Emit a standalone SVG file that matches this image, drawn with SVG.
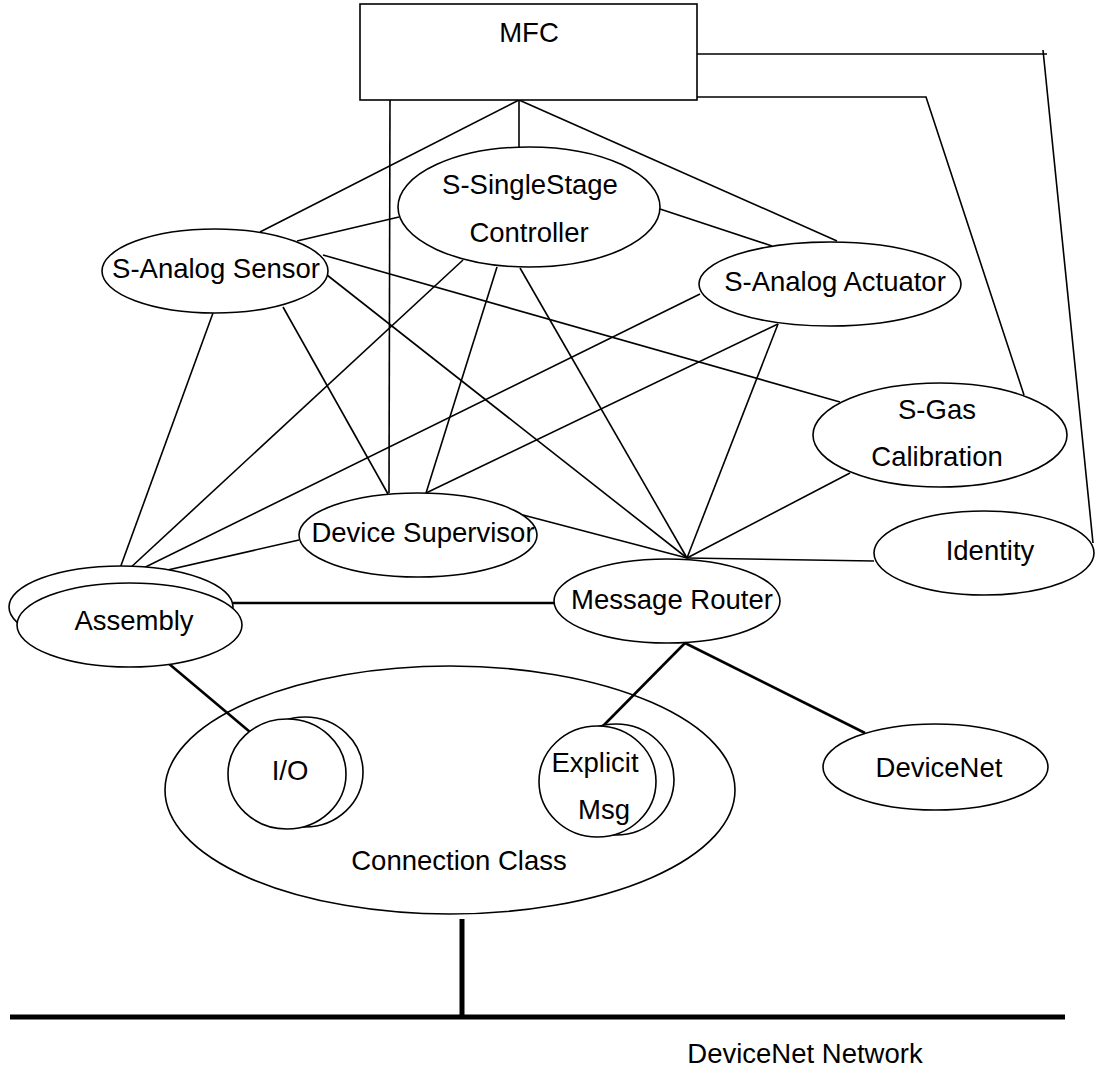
<svg xmlns="http://www.w3.org/2000/svg" width="1095" height="1070" viewBox="0 0 1095 1070">
<style>
.n{fill:#fff;stroke:#000;stroke-width:1.6}
.t{font-family:"Liberation Sans",Arial,sans-serif;font-size:27.5px;fill:#000;text-anchor:middle}
.c line,.c polyline{stroke:#000;stroke-width:1.6;fill:none}
.c .k{stroke-width:2.6}
.c .b{stroke-width:5}
</style>
<rect width="1095" height="1070" fill="#fff"/>
<g id="connection-class">
<ellipse class="n" cx="450" cy="790" rx="285" ry="124"/>
<text class="t" x="459" y="870">Connection Class</text>
</g>
<g id="connectors" class="c">
<line x1="519" y1="100" x2="260" y2="232"/>
<line x1="519" y1="100" x2="519" y2="147"/>
<line x1="519" y1="100" x2="837" y2="241"/>
<line x1="390" y1="100" x2="389" y2="493"/>
<line x1="697" y1="54" x2="1047" y2="54"/>
<line x1="1043" y1="50" x2="1093" y2="543"/>
<polyline points="697,97 926,97 1024,395"/>
<line x1="297" y1="241" x2="399" y2="217"/>
<line x1="660" y1="209" x2="772" y2="246"/>
<line x1="323" y1="255" x2="840" y2="402"/>
<line x1="327" y1="275" x2="687" y2="558"/>
<line x1="213" y1="313" x2="115" y2="582"/>
<line x1="283" y1="307" x2="388" y2="494"/>
<line x1="463" y1="260" x2="115" y2="582"/>
<line x1="497" y1="267" x2="426" y2="493"/>
<line x1="520" y1="268" x2="687" y2="558"/>
<line x1="700" y1="294" x2="115" y2="582"/>
<line x1="778" y1="324" x2="426" y2="493"/>
<line x1="778" y1="324" x2="687" y2="558"/>
<line x1="850" y1="473" x2="687" y2="558"/>
<line x1="299" y1="540" x2="115" y2="582"/>
<line x1="523" y1="515" x2="687" y2="558"/>
<line x1="687" y1="558" x2="874" y2="561"/>
<line class="k" x1="233" y1="603" x2="555" y2="603"/>
<line class="k" x1="168" y1="663" x2="250" y2="732"/>
<line class="k" x1="685" y1="643" x2="603" y2="726"/>
<line class="k" x1="685" y1="643" x2="865" y2="733"/>
<line class="b" x1="462" y1="919" x2="462" y2="1017"/>
<line class="b" x1="10" y1="1017" x2="1065" y2="1017"/>
</g>
<g id="mfc">
<rect class="n" x="360" y="4" width="337" height="96"/>
<text class="t" x="529" y="42">MFC</text>
</g>
<g id="controller">
<ellipse class="n" cx="529" cy="207" rx="131" ry="60"/>
<text class="t" x="530" y="194">S-SingleStage</text>
<text class="t" x="529" y="242">Controller</text>
</g>
<g id="sensor">
<ellipse class="n" cx="215" cy="271" rx="113" ry="42"/>
<text class="t" x="216" y="278">S-Analog Sensor</text>
</g>
<g id="actuator">
<ellipse class="n" cx="830" cy="284" rx="131" ry="42"/>
<text class="t" x="835" y="291">S-Analog Actuator</text>
</g>
<g id="gas-calibration">
<ellipse class="n" cx="940" cy="435" rx="127" ry="52"/>
<text class="t" x="937" y="419">S-Gas</text>
<text class="t" x="937" y="466">Calibration</text>
</g>
<g id="device-supervisor">
<ellipse class="n" cx="418" cy="535" rx="119" ry="42"/>
<text class="t" x="423" y="542">Device Supervisor</text>
</g>
<g id="identity">
<ellipse class="n" cx="984" cy="553" rx="110" ry="42"/>
<text class="t" x="990" y="560">Identity</text>
</g>
<g id="assembly">
<ellipse class="n" cx="121" cy="607" rx="112" ry="41"/>
<ellipse class="n" cx="129.5" cy="625" rx="112.5" ry="42"/>
<text class="t" x="134" y="630">Assembly</text>
</g>
<g id="message-router">
<ellipse class="n" cx="667" cy="601" rx="113" ry="42"/>
<text class="t" x="672" y="609">Message Router</text>
</g>
<g id="io">
<ellipse class="n" cx="305" cy="772" rx="58" ry="55"/>
<ellipse class="n" cx="287" cy="774" rx="59" ry="55"/>
<text class="t" x="290" y="780">I/O</text>
</g>
<g id="explicit-msg">
<ellipse class="n" cx="616" cy="779.5" rx="58" ry="55.5"/>
<ellipse class="n" cx="597.5" cy="781.5" rx="58.5" ry="55.5"/>
<text class="t" x="595" y="772">Explicit</text>
<text class="t" x="604" y="819">Msg</text>
</g>
<g id="devicenet">
<ellipse class="n" cx="935.5" cy="767" rx="112.5" ry="43"/>
<text class="t" x="939" y="777">DeviceNet</text>
</g>
<g id="network-label">
<text class="t" x="805" y="1063">DeviceNet Network</text>
</g>
</svg>
